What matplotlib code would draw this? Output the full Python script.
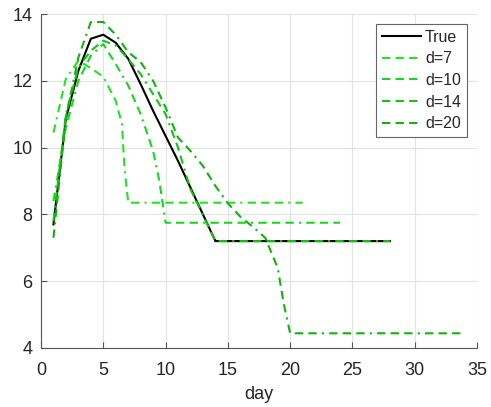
import matplotlib
matplotlib.use('Agg')
import matplotlib.pyplot as plt

plt.rcParams['font.family'] = ['Liberation Sans', 'DejaVu Sans']

# true curve
true_day = [1, 2, 3, 4, 5, 6, 7, 8, 9, 10, 11, 12, 13, 14, 28]
true_val = [7.7, 10.87, 12.3, 13.26, 13.38, 13.14, 12.66, 11.9, 11.1, 10.35,
            9.6, 8.8, 8.0, 7.2, 7.2]

# forecasts with d days of data
d7_day = [1, 2, 3, 4, 5, 6, 6.5, 6.7, 7, 21]
d7_val = [10.45, 12.07, 12.6, 12.38, 12.12, 11.4, 10.7, 9.4, 8.35, 8.35]

d10_day = [1, 2, 3, 4, 5, 6, 7, 8, 9, 9.5, 10, 24]
d10_val = [8.4, 10.6, 12.0, 12.75, 13.1, 12.5, 11.86, 11.0, 9.9, 9.0, 7.75, 7.75]

d14_day = [1, 2, 3, 4, 5, 6, 7, 8, 9, 10, 11, 12, 13, 14, 28]
d14_val = [7.8, 11.0, 12.4, 12.9, 13.2, 13.06, 12.65, 12.2, 11.6, 11.0,
           10.0, 8.75, 7.98, 7.2, 7.2]

d20_day = [1, 2, 3, 4, 5, 6, 7, 8, 9, 10, 11, 12, 13, 14, 15, 16, 17, 18,
           19, 19.5, 20, 34]
d20_val = [7.3, 10.9, 12.7, 13.76, 13.76, 13.38, 12.86, 12.56, 12.0, 11.2,
           10.3, 9.9, 9.45, 8.85, 8.33, 7.93, 7.63, 7.3, 6.4, 5.3, 4.44, 4.44]

labels = ['True', 'd=7', 'd=10', 'd=14', 'd=20']
greens = ['#1fe61f', '#17d817', '#11c711', '#0cb60c']

axcol = '#262626'
dash = (0, (4, 2.5, 1, 2.5, 4, 2.5, 4, 2.5))

fig = plt.figure(figsize=(4.91, 4.07), dpi=100)
ax = fig.add_axes([0.0835, 0.145, 0.888, 0.8206])

ax.plot(true_day, true_val, color='black', linewidth=1.5, label=labels[0])
series = [(d7_day, d7_val), (d10_day, d10_val), (d14_day, d14_val), (d20_day, d20_val)]
for (x, y), lab, c in zip(series, labels[1:], greens):
    ax.plot(x, y, color=c, linewidth=1.5, linestyle=dash, label=lab)

ax.set_xlim(0, 35)
ax.set_ylim(4, 14)
ax.set_xticks(range(0, 36, 5))
ax.set_yticks(range(4, 15, 2))
ax.set_xlabel('day', fontsize=13, color=axcol, labelpad=5)

ax.grid(True, color='#e3e3e3', linewidth=0.8)
ax.set_axisbelow(True)
for side in ['top', 'right']:
    ax.spines[side].set_visible(False)
for side in ['left', 'bottom']:
    ax.spines[side].set_color('#555555')
    ax.spines[side].set_linewidth(0.8)
ax.tick_params(direction='in', length=4, width=0.8, color='#555555',
               labelsize=13, labelcolor=axcol)
ax.tick_params(axis='x', pad=10)
ax.tick_params(axis='y', pad=6)

leg = ax.legend(loc='upper right', bbox_to_anchor=(0.976, 0.97), fontsize=11.5,
                handlelength=2.45, handletextpad=0.25, labelspacing=0.42,
                borderpad=0.35, borderaxespad=0, fancybox=False, framealpha=1)
leg.get_frame().set_edgecolor('#666666')
leg.get_frame().set_linewidth(0.8)
for t in leg.get_texts():
    t.set_color(axcol)
for h in leg.get_lines()[1:]:
    h.set_linestyle((0, (4, 2.5)))

fig.savefig('out.png', dpi=100)
